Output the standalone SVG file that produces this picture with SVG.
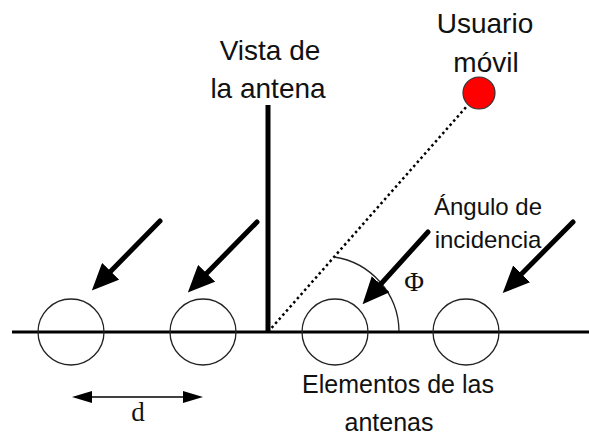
<svg xmlns="http://www.w3.org/2000/svg" width="589" height="441" viewBox="0 0 589 441">
<style>
.lbl{font-family:"Liberation Sans","Open Sans",sans-serif;fill:#111;text-anchor:middle}
.sym{font-family:"Liberation Serif","DejaVu Serif",serif;fill:#111;text-anchor:middle}
.elem{fill:none;stroke:#222;stroke-width:1.3}
.wave{stroke:#000;stroke-width:5;stroke-linecap:round;fill:none}
</style>
<defs>
<marker id="bigHead" viewBox="0 -12 27 24" refX="1" refY="0" markerWidth="27" markerHeight="24" markerUnits="userSpaceOnUse" orient="auto">
<path d="M0,-12 L27,0 L0,12 z" fill="#000"/>
</marker>
<marker id="smallHead" viewBox="0 -6 20 12" refX="1" refY="0" markerWidth="20" markerHeight="12" markerUnits="userSpaceOnUse" orient="auto-start-reverse">
<path d="M0,-6 L20,0 L0,6 z" fill="#000"/>
</marker>
</defs>
<rect width="589" height="441" fill="#fff"/>

<g id="ground">
<line x1="12" y1="332" x2="589" y2="332" stroke="#000" stroke-width="3"/>
</g>

<g id="antenna-view">
<line x1="268" y1="105" x2="268" y2="333" stroke="#000" stroke-width="5"/>
<text class="lbl" x="270" y="60" font-size="28">Vista de</text>
<text class="lbl" x="268" y="98" font-size="28">la antena</text>
</g>

<g id="element-1"><circle class="elem" cx="71" cy="332" r="33"/></g>
<g id="element-2"><circle class="elem" cx="203" cy="332" r="33"/></g>
<g id="element-3"><circle class="elem" cx="335" cy="332" r="33"/></g>
<g id="element-4"><circle class="elem" cx="466" cy="332" r="33"/></g>

<g id="mobile-user">
<circle cx="479" cy="93" r="16" fill="#f00" stroke="#333" stroke-width="1.2"/>
<text class="lbl" x="485" y="33" font-size="28">Usuario</text>
<text class="lbl" x="486" y="72" font-size="28">móvil</text>
</g>

<g id="angle-label">
<text class="lbl" x="488" y="215" font-size="24">Ángulo de</text>
<text class="lbl" x="488" y="248" font-size="24">incidencia</text>
<text class="sym" x="414" y="291" font-size="27">Φ</text>
</g>

<g id="elements-label">
<text class="lbl" x="398" y="393" font-size="25">Elementos de las</text>
<text class="lbl" x="389" y="431" font-size="25">antenas</text>
</g>

<g id="spacing-label">
<text class="sym" x="138" y="421" font-size="27">d</text>
</g>

<g id="connectors">
<line x1="268" y1="332" x2="467" y2="106" stroke="#000" stroke-width="2.5" stroke-dasharray="2.5 3"/>
<path d="M334,257 A76,76 0 0 1 399,331" fill="none" stroke="#222" stroke-width="1.3"/>
<line class="wave" x1="160" y1="221" x2="110" y2="272" marker-end="url(#bigHead)"/>
<line class="wave" x1="257" y1="222" x2="206" y2="274" marker-end="url(#bigHead)"/>
<line class="wave" x1="428" y1="232" x2="380" y2="285" marker-end="url(#bigHead)"/>
<line class="wave" x1="573" y1="222" x2="521" y2="274.5" marker-end="url(#bigHead)"/>
<line x1="91" y1="397" x2="184" y2="397" stroke="#000" stroke-width="1.5" marker-start="url(#smallHead)" marker-end="url(#smallHead)"/>
</g>
</svg>
